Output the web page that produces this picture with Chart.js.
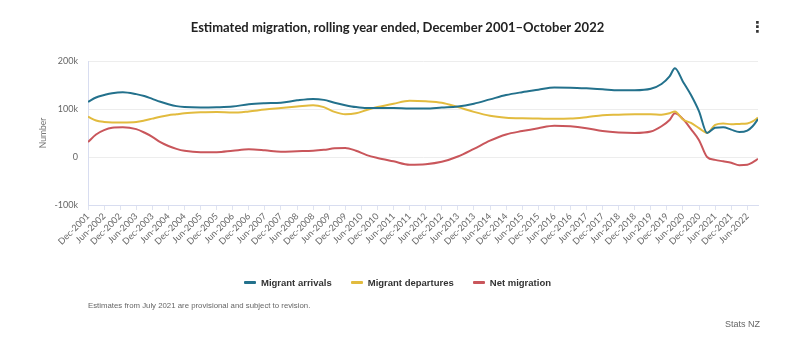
<!DOCTYPE html>
<html>
<head>
<meta charset="utf-8">
<script src="https://cdn.jsdelivr.net/npm/chart.js@4.4.0/dist/chart.umd.min.js"></script>
<style>
  html, body { margin: 0; padding: 0; background: #fff; }
  #wrap { position: relative; width: 795px; height: 357px; overflow: hidden; }
  #c { position: absolute; left: 0; top: 0; }
  #title { position: absolute; left: 0; width: 795px; top: 19px; text-align: center;
           font-family: Lato, "Open Sans", sans-serif; font-weight: 700; font-size: 13px; color: #222; }
  #kebab { position: absolute; left: 750px; top: 18px; font-family: "DejaVu Sans", sans-serif; font-weight: 700; font-size: 15px; color: #333; }
  #legend { position: absolute; left: 0; width: 795px; top: 277px; display: flex; justify-content: center; gap: 19px;
            font-family: "Liberation Sans Narrow", "Liberation Sans", sans-serif; font-weight: 700; font-size: 9.5px; color: #333; }
  .li { display: flex; align-items: center; }
  .sw { width: 12px; height: 3px; border-radius: 1px; margin-right: 5px; }
  #foot { position: absolute; left: 88px; top: 301px; font-family: "Liberation Sans Narrow", "Liberation Sans", sans-serif; font-size: 7.8px; color: #666; }
  #src { position: absolute; right: 35px; top: 319px; font-family: "Liberation Sans Narrow", "Liberation Sans", sans-serif; font-size: 9px; color: #666; }
</style>
</head>
<body>
<div id="wrap">
  <canvas id="c" width="795" height="357"></canvas>
  <div id="title">Estimated migration, rolling year ended, December 2001–October 2022</div>
  <div id="kebab">⋮</div>
  <div id="legend"></div>
  <div id="foot">Estimates from July 2021 are provisional and subject to revision.</div>
  <div id="src">Stats NZ</div>
</div>
<script>
// ---- Data (values in thousands) ----
const sampleMonths = ["Dec-2001","Mar-2002","Jun-2002","Sep-2002","Jan-2003","Jun-2003","Sep-2003","Dec-2003",
  "Mar-2004","Jun-2004","Sep-2004","Dec-2004","Jun-2005","Dec-2005","Jun-2006","Dec-2006","Jun-2007","Dec-2007",
  "Jun-2008","Dec-2008","Apr-2009","Aug-2009","Dec-2009","Apr-2010","Aug-2010","Dec-2010","Jun-2011","Dec-2011",
  "Jun-2012","Dec-2012","Jun-2013","Dec-2013","Jun-2014","Dec-2014","Jun-2015","Dec-2015","Jun-2016","Dec-2016",
  "Jun-2017","Dec-2017","Jun-2018","Dec-2018","Jun-2019","Oct-2019","Jan-2020","Mar-2020","Jun-2020","Sep-2020",
  "Dec-2020","Mar-2021","Jun-2021","Sep-2021","Dec-2021","Mar-2022","Jun-2022","Aug-2022","Oct-2022"];
const arrivals = [115,124,129,133,135,131,127,121,
  115,110,106,104,103,103.5,105,110,112,113,
  118,121,119,113,108,104,102,102,102,101,
  101,103,105,111,120,129,135,140,145,144.5,
  143,141,139,139,142,152,168,185,157,129,
  95,50,61,62,57,52,55,64,79];
const departures = [84,76,73,72,72,73,76,80,
  84,87,89,91,93,94,92.5,95,99,102,
  105,108,104,94,89,91,98,104,111,117,
  116,113,104,94,86,82,80.5,80,79.5,80,
  83,87,88,89,89,88,91,95,78,71,
  60,50,67,70,68,69,70,74,82];
const netMigration = [31,47,56,61,62,58,51,42,
  31,23,17,13,10,10,13,16,14,11,
  12,13,15,18,19,13,4,-2,-9,-16,
  -15,-10,1,17,34,47,54,60,65,64,
  60,54,51,50,53,64,77,91,79,58,
  35,0,-6,-9,-12,-17,-16,-11,-4];
const seriesNames = ["Migrant arrivals","Migrant departures","Net migration"];
const xTickLabels = ["Dec-2001","Jun-2002","Dec-2002","Jun-2003","Dec-2003","Jun-2004","Dec-2004","Jun-2005",
  "Dec-2005","Jun-2006","Dec-2006","Jun-2007","Dec-2007","Jun-2008","Dec-2008","Jun-2009","Dec-2009","Jun-2010",
  "Dec-2010","Jun-2011","Dec-2011","Jun-2012","Dec-2012","Jun-2013","Dec-2013","Jun-2014","Dec-2014","Jun-2015",
  "Dec-2015","Jun-2016","Dec-2016","Jun-2017","Dec-2017","Jun-2018","Dec-2018","Jun-2019","Dec-2019","Jun-2020",
  "Dec-2020","Jun-2021","Dec-2021","Jun-2022"];
const lastMonth = "Oct-2022";
const yMin = -100, yMax = 200, yStep = 100;

// ---- helpers ----
const MONTHS = ["Jan","Feb","Mar","Apr","May","Jun","Jul","Aug","Sep","Oct","Nov","Dec"];
function monthIndex(lbl) {
  const [m, y] = lbl.split("-");
  return (parseInt(y, 10) - 2001) * 12 + MONTHS.indexOf(m) - 11;
}
const tickMap = {};
xTickLabels.forEach(l => { tickMap[monthIndex(l)] = l; });
function pts(vals) { return sampleMonths.map((m, i) => ({ x: monthIndex(m), y: vals[i] * 1000 })); }

const colors = ["#23718c", "#e2bb3e", "#c9565b"];
const seriesVals = [arrivals, departures, netMigration];

// legend
const lg = document.getElementById("legend");
seriesNames.forEach((n, i) => {
  const d = document.createElement("div"); d.className = "li";
  d.innerHTML = '<span class="sw" style="background:' + colors[i] + '"></span>' + n;
  lg.appendChild(d);
});

const tickFont = { family: "Lato, 'Open Sans', sans-serif", size: 9 };
new Chart(document.getElementById("c"), {
  type: "line",
  data: {
    datasets: seriesNames.map((n, i) => ({
      label: n, data: pts(seriesVals[i]), borderColor: colors[i], backgroundColor: colors[i],
      borderWidth: 2, pointRadius: 0, cubicInterpolationMode: "monotone", fill: false
    }))
  },
  options: {
    responsive: false, animation: false,
    layout: { padding: { left: 38, right: 37, top: 61, bottom: 97 } },
    plugins: { legend: { display: false }, tooltip: { enabled: false } },
    scales: {
      x: {
        type: "linear", min: 0, max: monthIndex(lastMonth),
        afterFit: s => { s.height = 55; },
        afterBuildTicks: s => { s.ticks = xTickLabels.map(l => ({ value: monthIndex(l) })); },
        ticks: { autoSkip: false, maxRotation: 45, minRotation: 45, includeBounds: false,
                 callback: v => tickMap[v] || "", color: "#666", font: tickFont, padding: 1 },
        grid: { drawOnChartArea: false, drawTicks: true, tickLength: 5, color: "#dfe3f0" },
        border: { color: "#d8ddf0", width: 1 }
      },
      y: {
        min: yMin * 1000, max: yMax * 1000,
        afterFit: s => { s.width = 50; },
        ticks: { stepSize: yStep * 1000, color: "#666", font: tickFont, padding: 10,
                 callback: v => v === 0 ? "0" : (v / 1000) + "k" },
        grid: { color: "#ededed", drawTicks: false },
        border: { color: "#d8ddf0", width: 1 },
        title: { display: true, text: "Number", color: "#777", font: { family: "Lato, 'Open Sans', sans-serif", size: 8.5 }, padding: 0 }
      }
    }
  }
});
</script>
</body>
</html>
